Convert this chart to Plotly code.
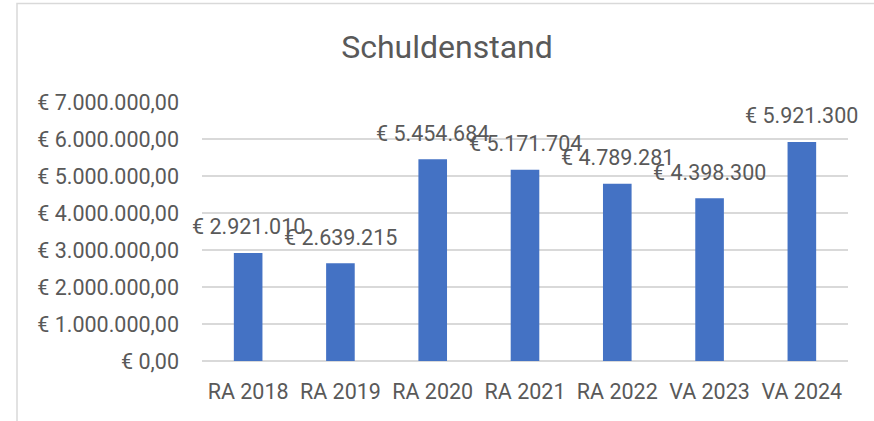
import plotly.graph_objects as go

categories = ["RA 2018", "RA 2019", "RA 2020", "RA 2021", "RA 2022", "VA 2023", "VA 2024"]
values = [2921010, 2639215, 5454684, 5171704, 4789281, 4398300, 5921300]
value_labels = ["€ 2.921.010", "€ 2.639.215", "€ 5.454.684", "€ 5.171.704",
                "€ 4.789.281", "€ 4.398.300", "€ 5.921.300"]
tick_vals = [0, 1000000, 2000000, 3000000, 4000000, 5000000, 6000000, 7000000]
tick_text = ["€ 0,00", "€ 1.000.000,00", "€ 2.000.000,00", "€ 3.000.000,00",
             "€ 4.000.000,00", "€ 5.000.000,00", "€ 6.000.000,00", "€ 7.000.000,00"]
title_text = "Schuldenstand"

FONT = "Roboto"
GREY = "#595959"
FS = 21.5

fig = go.Figure()
fig.add_trace(go.Bar(x=categories, y=values, marker=dict(color="#4472C4", line=dict(width=0)),
                     hoverinfo="skip"))

for c, v, t in zip(categories, values, value_labels):
    fig.add_annotation(x=c, y=v, text=t, showarrow=False, yanchor="middle", xanchor="center",
                       yshift=26, font=dict(family=FONT, size=FS, color=GREY))

L, R, T, B = 202, 26, 102, 60
W, H = 874, 421
pw, ph = W - L - R, H - T - B
fig.add_shape(type="rect", xref="paper", yref="paper",
              x0=(17 - L) / pw, x1=(W + 10 - L) / pw,
              y0=(H - B - (H + 10)) / ph, y1=(H - B - 3.5) / ph,
              line=dict(color="#d9d9d9", width=1.5), fillcolor="rgba(0,0,0,0)", layer="below")

fig.update_layout(
    width=W, height=H,
    margin=dict(l=L, r=R, t=T, b=B, autoexpand=False),
    paper_bgcolor="white", plot_bgcolor="white",
    bargap=0.69,
    showlegend=False,
    title=dict(text=title_text, x=447 / W, xanchor="center", y=1 - 47 / H, yanchor="middle",
               xref="container", yref="container",
               font=dict(family=FONT, size=32, color=GREY)),
    xaxis=dict(range=[-0.5, len(categories) - 0.5], showgrid=False, showline=False, ticks="",
               automargin=False, ticklabelstandoff=15,
               tickfont=dict(family=FONT, size=FS, color=GREY)),
    yaxis=dict(range=[0, 7000000], tickvals=tick_vals, ticktext=tick_text, automargin=False,
               showgrid=True, gridcolor="#d9d9d9", gridwidth=1.5,
               zeroline=True, zerolinecolor="#d9d9d9", zerolinewidth=1.5,
               showline=False, ticks="", ticklabelstandoff=22,
               tickfont=dict(family=FONT, size=FS, color=GREY)),
)

fig.write_html("out.html", config={"displayModeBar": False},
               post_script="document.body.style.margin='0';document.body.style.overflow='hidden';")
